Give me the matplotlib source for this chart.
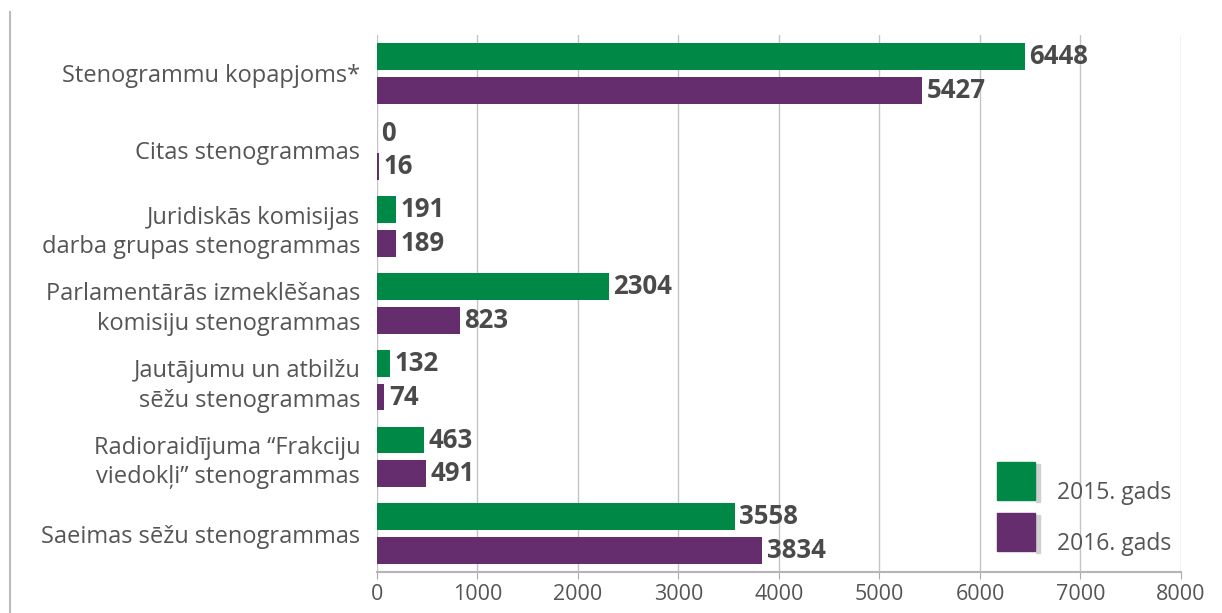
import matplotlib.pyplot as plt
import numpy as np
from matplotlib.lines import Line2D
from matplotlib.patches import Rectangle

# Data (top to bottom)
categories = [
    "Stenogrammu kopapjoms*",
    "Citas stenogrammas",
    "Juridiskās komisijas\ndarba grupas stenogrammas",
    "Parlamentārās izmeklēšanas\nkomisiju stenogrammas",
    "Jautājumu un atbilžu\nsēžu stenogrammas",
    "Radioraidījuma “Frakciju\nviedokļi” stenogrammas",
    "Saeimas sēžu stenogrammas",
]
values_2015 = [6448, 0, 191, 2304, 132, 463, 3558]
values_2016 = [5427, 16, 189, 823, 74, 491, 3834]
series_names = ["2015. gads", "2016. gads"]
x_ticks = [0, 1000, 2000, 3000, 4000, 5000, 6000, 7000, 8000]

green = "#008847"
purple = "#652d6d"
text_col = "#555555"
label_col = "#4a4a4a"

plt.rcParams['font.family'] = ['Open Sans', 'DejaVu Sans']

fig = plt.figure(figsize=(12.22, 6.13), dpi=100)
ax = fig.add_axes([0.3085, 0.0669, 0.6579, 0.8761])

y = np.arange(len(categories))
h = 0.35
off = 0.22
ax.barh(y - off, values_2015, height=h, color=green, zorder=3)
ax.barh(y + off, values_2016, height=h, color=purple, zorder=3)

for yi, v in zip(y, values_2015):
    ax.text(v + 45, yi - off, str(v), va='center', ha='left', fontsize=18.5,
            fontweight='bold', color=label_col, zorder=4)
for yi, v in zip(y, values_2016):
    ax.text(v + 45, yi + off, str(v), va='center', ha='left', fontsize=18.5,
            fontweight='bold', color=label_col, zorder=4)

ax.set_xlim(0, 8000)
ax.set_ylim(len(categories) - 0.5, -0.5)
ax.set_xticks(x_ticks)
ax.set_xticklabels([str(t) for t in x_ticks], fontsize=15.5, color=text_col)
ax.set_yticks(y)
ax.set_yticklabels(categories, fontsize=17, color=text_col, linespacing=1.3)
ax.tick_params(axis='y', length=0, pad=12)
ax.tick_params(axis='x', length=5, color="#aaaaaa", pad=4)

ax.grid(axis='x', color="#c4c4c4", linewidth=1, zorder=0)
for s in ['top', 'right', 'left']:
    ax.spines[s].set_visible(False)
ax.spines['bottom'].set_color("#b5b5b5")
ax.spines['bottom'].set_linewidth(1.5)

# legend squares drawn in figure coordinates
W, H = 1222, 613
for i, (name, col) in enumerate(zip(series_names, [green, purple])):
    top = 462 + i * 51
    fig.add_artist(Rectangle((1036 / W, 1 - (top + 40) / H), 4 / W, 38 / H,
                             color="#d0d0d0", transform=fig.transFigure))
    fig.add_artist(Rectangle((997 / W, 1 - (top + 38) / H), 38 / W, 38 / H,
                             color=col, transform=fig.transFigure))
    fig.text(1057 / W, 1 - (top + 31) / H, name, fontsize=16.5, color=text_col,
             va='center', ha='left')

# left frame line
fig.add_artist(Line2D([10 / W, 10 / W], [0, 1 - 12 / H], color="#bbbbbb",
                      linewidth=1.5))

fig.savefig("out.png", dpi=100)
